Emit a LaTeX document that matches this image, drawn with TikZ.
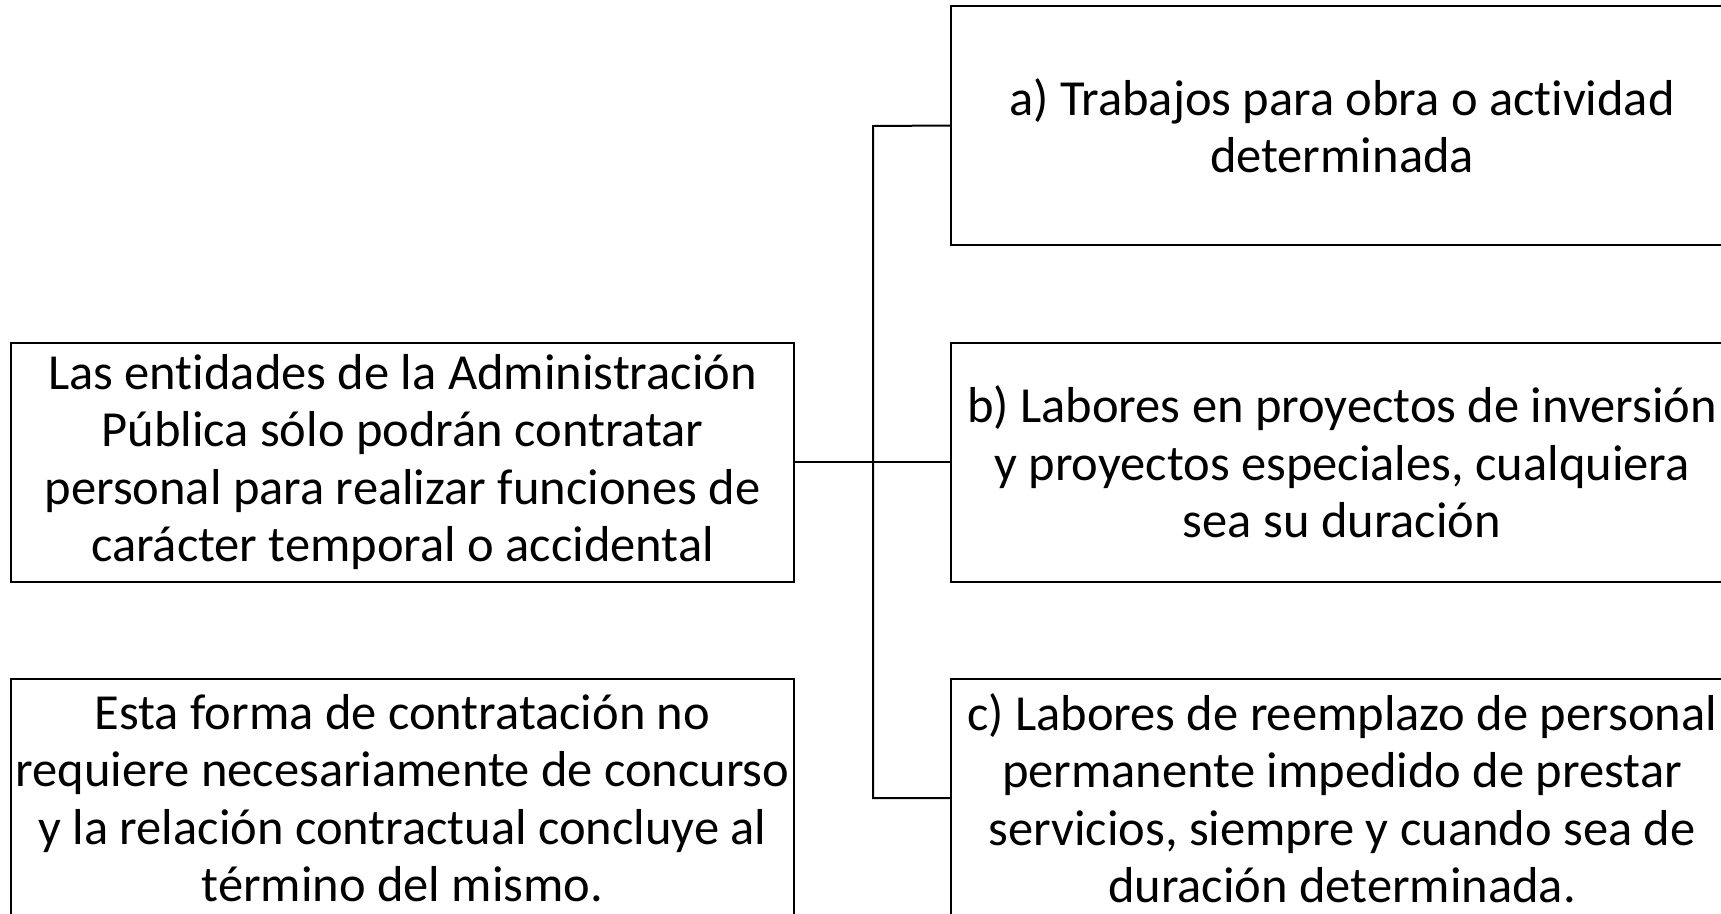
\documentclass[tikz,border=0pt]{standalone}
\usepackage{fontspec}
\setmainfont{Carlito}[Ligatures=NoCommon]
\begin{document}
\begin{tikzpicture}[x=1pt,y=-1pt,
  cajatexto/.style={draw=black,line width=2pt,inner sep=0pt,outer sep=0pt,
    minimum width=783pt,minimum height=239pt,align=center,
    font=\fontsize{50.5}{57.5}\selectfont},
  enlace/.style={draw=black,line width=2pt}]
\useasboundingbox (0,0) rectangle (1721,913);
\clip (0,0) rectangle (1721,913);
% left column
\node[cajatexto] (entidades) at (402.5,462) {Las entidades de la Administración\\Pública sólo podrán contratar\\personal para realizar funciones de\\carácter temporal o accidental};
\node[cajatexto] (forma) at (402.5,798) {Esta forma de contratación no\\requiere necesariamente de concurso\\y la relación contractual concluye al\\término del mismo.};
% right column
\node[cajatexto] (obra) at (1342,125.5) {a) Trabajos para obra o actividad\\determinada};
\node[cajatexto] (proyectos) at (1342,462) {b) Labores en proyectos de inversión\\y proyectos especiales, cualquiera\\sea su duración};
\node[cajatexto] (reemplazo) at (1342,798) {c) Labores de reemplazo de personal\\permanente impedido de prestar\\servicios, siempre y cuando sea de\\duración determinada.};
% connectors
\coordinate (bus) at (873,126);
\draw[enlace] (entidades.east) -- (proyectos.west);
\draw[enlace] (obra.west) -- (bus) |- (reemplazo.west);
\end{tikzpicture}
\end{document}
